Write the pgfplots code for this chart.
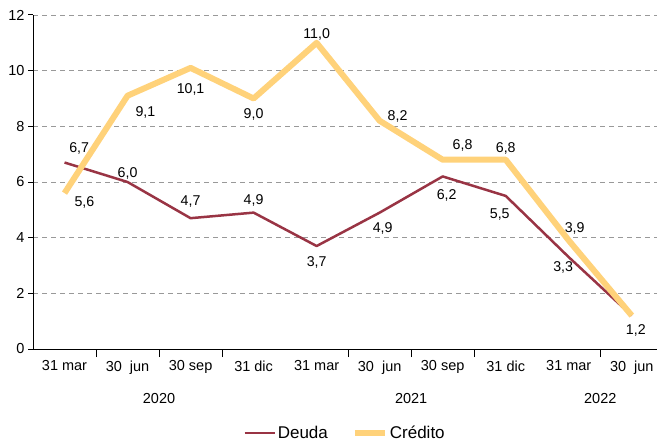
\documentclass[border=0pt]{standalone}
\usepackage{pgfplots}
\pgfplotsset{compat=1.18}
\usepackage{fontspec}
\setmainfont{Liberation Sans}
\definecolor{deuda}{HTML}{993444}
\definecolor{credito}{HTML}{FFD27A}
\begin{document}
\begin{tikzpicture}[x=1pt,y=1pt]
\begin{axis}[
  name=ax,
  scale only axis,
  width=624pt, height=334pt,
  xmin=-0.5, xmax=9.4,
  ymin=0, ymax=12,
  ytick={0,2,...,12},
  axis x line=bottom, axis y line=left,
  axis line style={-, black, line width=1pt},
  tick align=outside,
  ymajorgrids,
  grid style={gray!80, line width=0.8pt},
  major grid style={dash pattern=on 5pt off 4pt},
  xtick={0,...,9},
  xticklabels={31 mar,30\ \ jun,30 sep,31 dic,31 mar,30\ \ jun,30 sep,31 dic,31 mar,30\ \ jun},
  x tick style={draw=none},
  minor xtick={0.5,1.5,2.5,4.5,5.5,6.5,8.5},
  minor tick length=8pt,
  minor x tick style={draw=black, line width=1pt},
  y tick style={black, line width=1pt},
  major tick length=5pt,
  extra x ticks={-0.5,3.5,7.5},
  extra x tick labels={},
  extra x tick style={major tick length=51pt, tick style={draw=black, line width=1pt}},
  xticklabel style={yshift=-3pt},
  ticklabel style={font=\fontsize{14.5}{17}\selectfont},
  /pgf/number format/assume math mode=true,
  point meta=explicit symbolic,
  nodes near coords,
  nodes near coords style={font=\fontsize{14.2}{17}\selectfont, text=black},
  visualization depends on={value \thisrow{pos} \as \lpos},
  visualization depends on={\thisrow{dx} \as \ldx},
  visualization depends on={\thisrow{dy} \as \ldy},
  every node near coord/.append style={anchor=\lpos, inner sep=3.5pt, xshift=\ldx pt, yshift=\ldy pt},
  legend style={at={(0.5,-0.252)}, anchor=center, draw=none,
    font=\fontsize{17}{20}\selectfont, nodes={font=\fontsize{17}{20}\selectfont},
    legend columns=2, /tikz/every even column/.append style={column sep=22pt}},
  legend image code/.code={\draw[#1] (0pt,0pt) -- (30pt,0pt);},
  clip=false,
]
\addplot[deuda, line width=2.5pt, line join=round] table[x=x, y=y, meta=lab] {
x y lab pos dx dy
0 6.7 {6,7} {south west} 0 3
1 6.0 {6,0} {south} 0 -2
2 4.7 {4,7} {south} 0 6
3 4.9 {4,9} {south} 0 2
4 3.7 {3,7} {north} 0 -6
5 4.9 {4,9} {north} 3 -5
6 6.2 {6,2} {north} 4 -8
7 5.5 {5,5} {north} -6 -8
8 3.3 {3,3} {north east} 9 0
9 1.2 {1,2} {north} 4 -4
};
\addlegendentry{Deuda}
\addplot[credito, line width=6pt, line join=round, every node near coord/.append style={inner sep=5pt}] table[x=x, y=y, meta=lab] {
x y lab pos dx dy
0 5.6 {5,6} {north west} 2 5
1 9.1 {9,1} {north west} 0 -3
2 10.1 {10,1} {north} 0 -8
3 9.0 {9,0} {north} 0 -2
4 11.0 {11,0} {south} 0 -5
5 8.2 {8,2} {south west} 0 -10
6 6.8 {6,8} {south west} 2 0
7 6.8 {6,8} {south} 0 -3
8 3.9 {3,9} {south west} -12 -2
9 1.2 {} {center} 0 0
};
\addlegendentry{Crédito}
\coordinate (bl) at (rel axis cs:0,0);
\coordinate (tr) at (rel axis cs:1,1);
\node at (axis cs:1.5,0) [yshift=-50pt] {\fontsize{14.5}{17}\selectfont 2020};
\node at (axis cs:5.5,0) [yshift=-50pt] {\fontsize{14.5}{17}\selectfont 2021};
\node at (axis cs:8.5,0) [yshift=-50pt] {\fontsize{14.5}{17}\selectfont 2022};
\end{axis}
\pgfresetboundingbox
\path[use as bounding box] ([shift={(-33pt,-93pt)}]bl) rectangle ([shift={(0pt,15pt)}]tr);
\end{tikzpicture}
\end{document}
